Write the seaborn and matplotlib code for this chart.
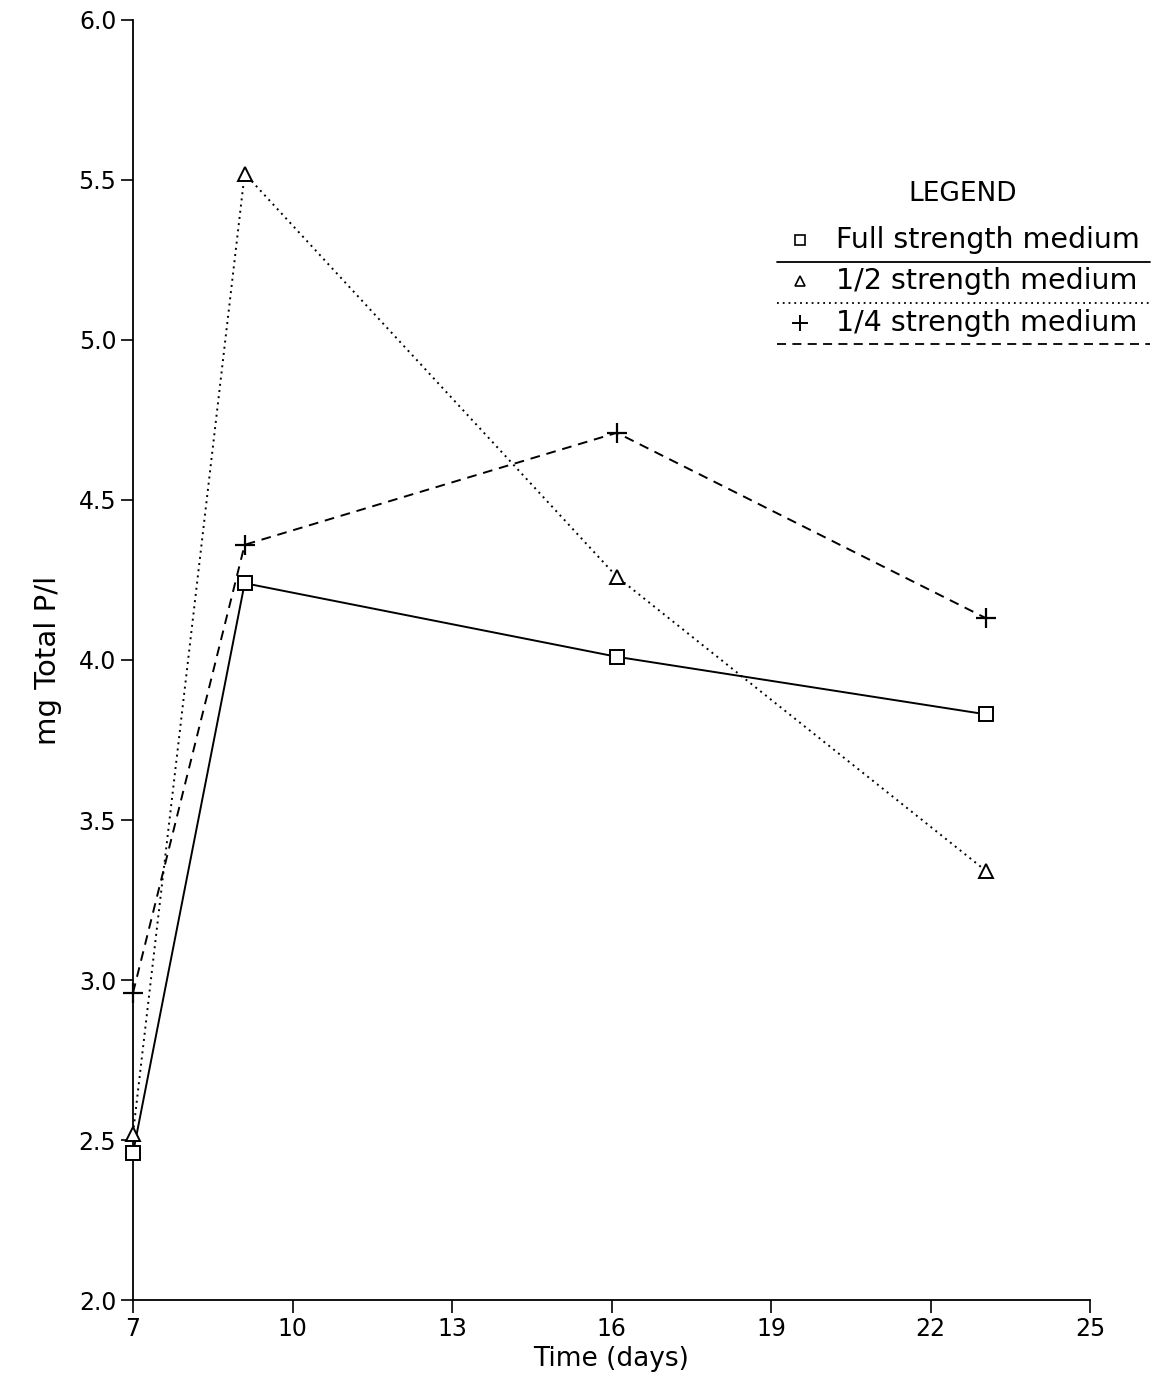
import numpy as np
import pandas as pd
import matplotlib
matplotlib.use('Agg')
import matplotlib.pyplot as plt
import seaborn as sns

days = [7, 9.1, 16.1, 23.05]
full_strength = [2.46, 4.24, 4.01, 3.83]
half_strength = [2.52, 5.52, 4.26, 3.34]
quarter_strength = [2.96, 4.36, 4.71, 4.13]
series_names = ['Full strength medium', '1/2 strength medium', '1/4 strength medium']
x_ticks = [7, 10, 13, 16, 19, 22, 25]
y_ticks = [2.0, 2.5, 3.0, 3.5, 4.0, 4.5, 5.0, 5.5, 6.0]

df = pd.DataFrame({
    'Time': days * 3,
    'P': full_strength + half_strength + quarter_strength,
    'Medio': [series_names[0]] * 4 + [series_names[1]] * 4 + [series_names[2]] * 4,
})

sns.set_style('ticks')
plt.rcParams['font.family'] = ['DejaVu Sans']
plt.rcParams['text.color'] = 'black'
plt.rcParams['axes.labelcolor'] = 'black'
plt.rcParams['xtick.color'] = 'black'
plt.rcParams['ytick.color'] = 'black'

fig = plt.figure(figsize=(11.73, 13.94), dpi=100)
ax = fig.add_axes([0.1134, 0.0674, 0.8159, 0.9183])

dashes = {series_names[0]: '', series_names[1]: (1, 2.2), series_names[2]: (5, 3.5)}

sns.lineplot(data=df, x='Time', y='P', style='Medio', markers=False,
             dashes=dashes, color='black', linewidth=1.4, ax=ax, legend=False)

# markers on top of lines
mk = {series_names[0]: ('s', 10), series_names[1]: ('^', 10), series_names[2]: ('+', 14)}
for name in series_names:
    sub = df[df.Medio == name]
    m, s = mk[name]
    if m == '+':
        ax.plot(sub.Time, sub.P, ls='none', marker=m, ms=s, mew=1.6, color='black',
                clip_on=False, zorder=5)
    else:
        ax.plot(sub.Time, sub.P, ls='none', marker=m, ms=s, mew=1.4,
                mfc='white', mec='black', clip_on=False, zorder=5)

ax.set_xlim(7, 25)
ax.set_ylim(2.0, 6.0)
ax.set_xticks(x_ticks)
ax.set_yticks(y_ticks)
ax.set_yticklabels([f'{v:.1f}' for v in y_ticks])
ax.tick_params(axis='both', labelsize=17, length=9, width=1.2, direction='out', pad=3)
for side in ['top', 'right']:
    ax.spines[side].set_visible(False)
for side in ['left', 'bottom']:
    ax.spines[side].set_linewidth(1.3)
    ax.spines[side].set_color('black')
ax.set_xlabel('Time (days)', fontsize=19, labelpad=4)
ax.set_ylabel('mg Total P/l', fontsize=21, labelpad=12)

# hand-drawn style legend
W, H = 1173, 1394
def fx(px):
    return px / W
def fy(py):
    return 1 - py / H

fig.text(fx(963), fy(194), 'LEGEND', fontsize=19, ha='center', va='center')
rows = [(240, 262), (281, 303), (323, 344)]
leg_style = [('-', 's'), (':', '^'), ('--', '+')]
for (ty, ly), name, (ls, m) in zip(rows, series_names, leg_style):
    if m == '+':
        fig.lines.append(plt.Line2D([fx(800)], [fy(ty)], marker=m, ms=11, mew=1.4,
                                    color='black', transform=fig.transFigure))
    else:
        fig.lines.append(plt.Line2D([fx(800)], [fy(ty)], marker=m, ms=7, mew=1.2,
                                    mfc='white', mec='black', color='black',
                                    transform=fig.transFigure))
    fig.text(fx(836), fy(ty), name, fontsize=20.5, ha='left', va='center')
    d = {'-': dict(ls='-'), ':': dict(ls=(0, (1, 2.2))), '--': dict(ls=(0, (5, 3.5)))}[ls]
    fig.lines.append(plt.Line2D([fx(777), fx(1150)], [fy(ly), fy(ly)], color='black',
                                lw=1.3, transform=fig.transFigure, **d))

fig.savefig('out.png', dpi=100, facecolor='white')
